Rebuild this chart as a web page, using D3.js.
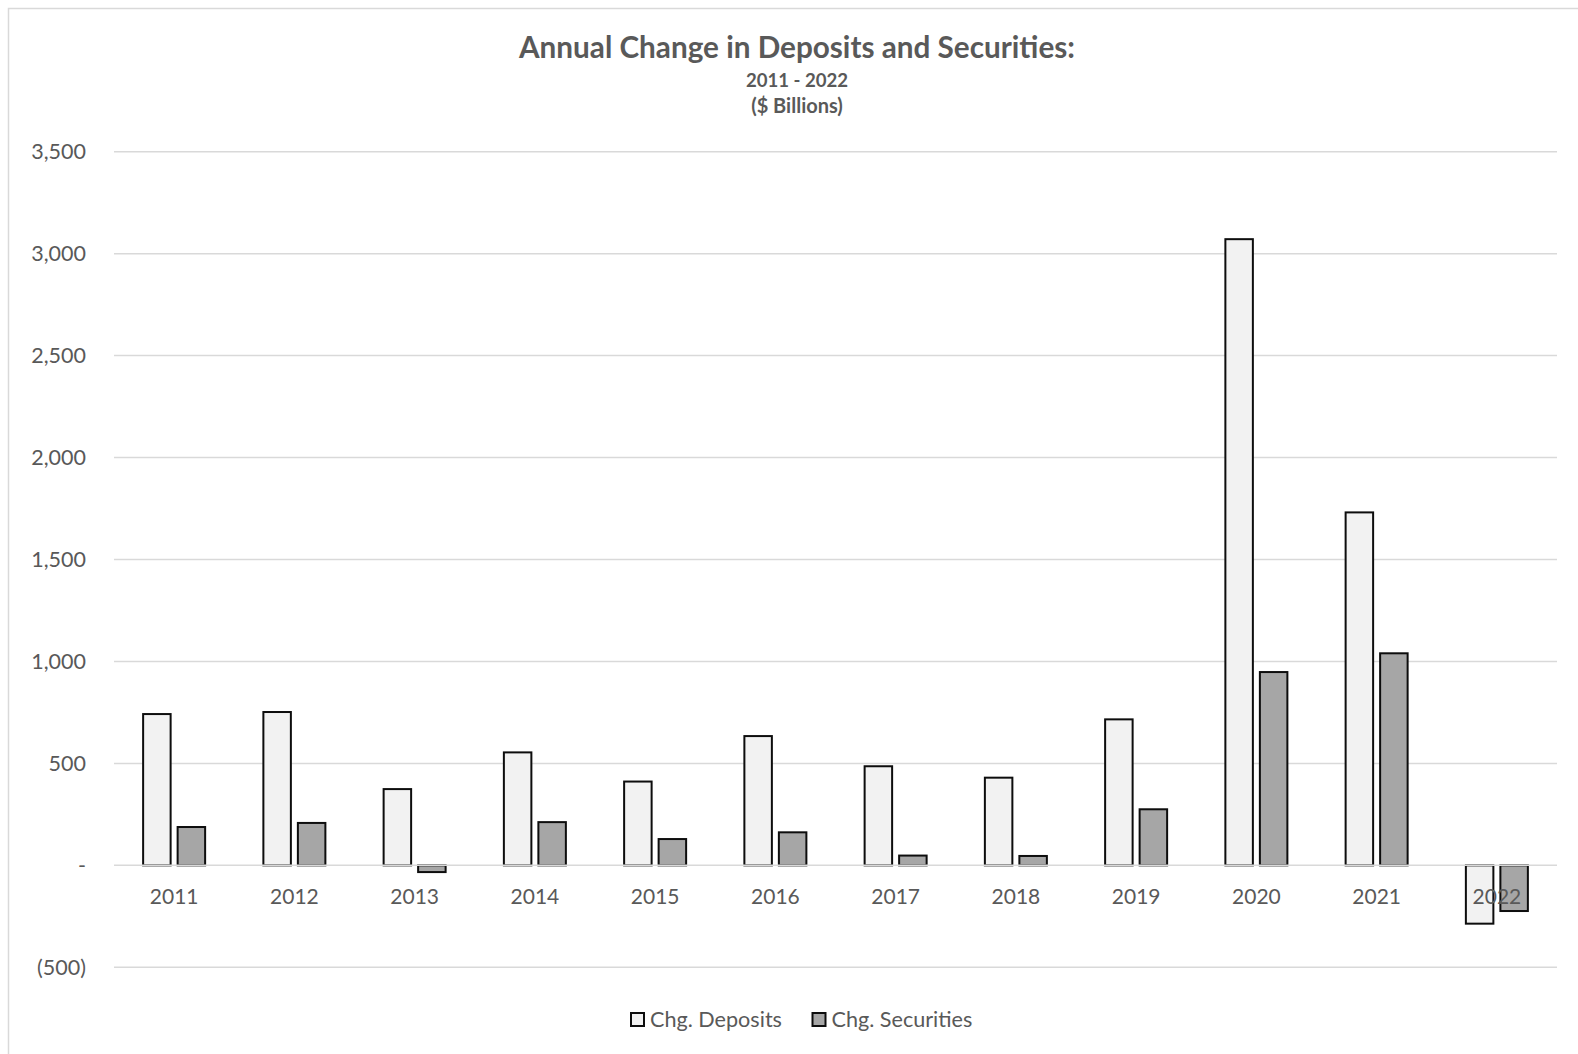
<!DOCTYPE html>
<html>
<head>
<meta charset="utf-8">
<script src="https://cdn.jsdelivr.net/npm/d3@7"></script>
<style>
  html, body { margin: 0; padding: 0; background: #fff; }
  svg { display: block; font-family: Lato, "Open Sans", sans-serif; }
</style>
</head>
<body>
<svg id="chart" width="1578" height="1054"></svg>
<script>
// Annual change, $ billions
const years = ["2011", "2012", "2013", "2014", "2015", "2016", "2017", "2018", "2019", "2020", "2021", "2022"];
const depositsChg = [742, 752, 374, 554, 411, 634, 486, 430, 716, 3071, 1731, -286];
const securitiesChg = [188, 208, -33, 212, 129, 162, 48, 46, 275, 948, 1040, -224];
const seriesNames = ["Chg. Deposits", "Chg. Securities"];
const yTicks = [-500, 0, 500, 1000, 1500, 2000, 2500, 3000, 3500];

const seriesFill = { "Chg. Deposits": "#f2f2f2", "Chg. Securities": "#a6a6a6" };
const textColor = "#595959";

const svg = d3.select("#chart");
const W = 1578, H = 1054;
const plot = { left: 114, right: 1557, top: 151.7, bottom: 967.3 };

// outer frame
svg.append("rect")
  .attr("x", 8.5).attr("y", 8.5)
  .attr("width", W + 20).attr("height", H + 20)
  .attr("fill", "#fff").attr("stroke", "#d9d9d9").attr("stroke-width", 1.5);

// titles
const cx = 797;
svg.append("text").attr("x", cx).attr("y", 58)
  .attr("text-anchor", "middle").attr("font-size", 29.7).attr("font-weight", 700)
  .attr("fill", textColor).text("Annual Change in Deposits and Securities:");
svg.append("text").attr("x", cx).attr("y", 87)
  .attr("text-anchor", "middle").attr("font-size", 18.6).attr("font-weight", 700)
  .attr("fill", textColor).text("2011 - 2022");
svg.append("text").attr("x", cx).attr("y", 113)
  .attr("text-anchor", "middle").attr("font-size", 20).attr("font-weight", 700)
  .attr("fill", textColor).text("($ Billions)");

const y = d3.scaleLinear().domain([-500, 3500]).range([plot.bottom, plot.top]);
const x = d3.scaleBand().domain(years).range([plot.left, plot.right]).padding(0);
const groupHalf = 31;
const xs = d3.scaleBand().domain(seriesNames).range([-groupHalf, groupHalf]).paddingInner(0.203);

// gridlines
svg.append("g").selectAll("line").data(yTicks.filter(d => d !== 0)).join("line")
  .attr("x1", plot.left).attr("x2", plot.right)
  .attr("y1", d => y(d)).attr("y2", d => y(d))
  .attr("stroke", "#d9d9d9").attr("stroke-width", 1.5);

// y tick labels
const fmt = d => d === 0 ? "-" : d < 0 ? "(" + d3.format(",")(-d) + ")" : d3.format(",")(d);
const yAxis = svg.append("g").attr("transform", `translate(${plot.left},0)`)
  .call(d3.axisLeft(y).tickValues(yTicks).tickFormat(fmt).tickSize(0).tickPadding(28));
yAxis.select(".domain").remove();
yAxis.selectAll("text").attr("font-size", 21.5).attr("fill", textColor)
  .attr("font-family", "Lato, 'Open Sans', sans-serif");

// bars
const rows = years.map((yr, i) => ({ year: yr, values: [
  { key: seriesNames[0], value: depositsChg[i] },
  { key: seriesNames[1], value: securitiesChg[i] }
]}));

const groups = svg.append("g").selectAll("g").data(rows).join("g")
  .attr("transform", d => `translate(${x(d.year) + x.bandwidth() / 2},0)`);
groups.selectAll("rect").data(d => d.values).join("rect")
  .attr("x", d => xs(d.key))
  .attr("width", xs.bandwidth())
  .attr("y", d => Math.min(y(d.value), y(0)))
  .attr("height", d => Math.abs(y(d.value) - y(0)))
  .attr("fill", d => seriesFill[d.key])
  .attr("stroke", "#0d0d0d").attr("stroke-width", 2);

// zero axis line
svg.append("line")
  .attr("x1", plot.left).attr("x2", plot.right)
  .attr("y1", y(0)).attr("y2", y(0))
  .attr("stroke", "#d9d9d9").attr("stroke-width", 1.5);

// category labels
const xAxis = svg.append("g").attr("transform", `translate(0,${y(0)})`)
  .call(d3.axisBottom(x).tickSize(0).tickPadding(24));
xAxis.select(".domain").remove();
xAxis.selectAll("text").attr("font-size", 21).attr("fill", textColor)
  .attr("font-family", "Lato, 'Open Sans', sans-serif");

// legend
const legendItems = [
  { key: seriesNames[0], x: 631 },
  { key: seriesNames[1], x: 812.5 }
];
const lg = svg.append("g").selectAll("g").data(legendItems).join("g")
  .attr("transform", d => `translate(${d.x},1013)`);
lg.append("rect").attr("width", 13).attr("height", 13)
  .attr("fill", d => seriesFill[d.key]).attr("stroke", "#0d0d0d").attr("stroke-width", 2);
lg.append("text").attr("x", 19).attr("y", 13.5)
  .attr("font-size", 21.6).attr("fill", textColor).text(d => d.key);
</script>
</body>
</html>
